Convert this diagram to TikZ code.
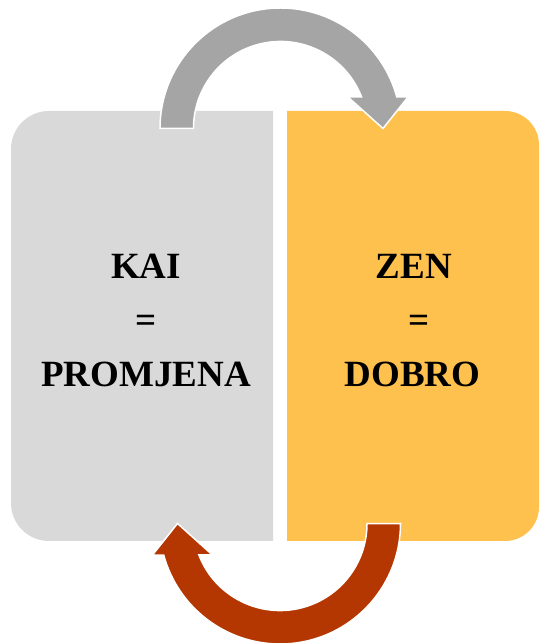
\documentclass[tikz,border=0pt]{standalone}
\usepackage{fontspec}
\setmainfont{Liberation Serif}
\definecolor{boxgray}{RGB}{217,217,217}
\definecolor{boxorange}{RGB}{255,193,77}
\definecolor{arrowgray}{RGB}{165,165,165}
\definecolor{arrowrust}{RGB}{180,54,0}
\begin{document}
\begin{tikzpicture}[x=1pt,y=1pt,
  label text/.style={font=\fontsize{37}{44}\selectfont\bfseries, anchor=base, inner sep=0pt, text=black},
  arrow outline/.style={draw=white, line width=1.5pt, line join=miter},
  cycarrow/.pic={
    \path[pic actions] (-120.5,0) arc[start angle=180, end angle=15.2, radius=120.5]
      -- (127.5,31.5) -- (102.5,0) -- (67.5,31.5) -- (81.1,31.5)
      arc[start angle=21.2, end angle=180, radius=87] -- cycle;
  }]
\useasboundingbox (0,0) rectangle (539,643);
% boxes
\fill[boxgray] (273,532) -- (49,532) arc[start angle=90, end angle=180, radius=38]
  -- (11,140) arc[start angle=180, end angle=270, radius=38] -- (273,102) -- cycle;
\fill[boxorange] (287,532) -- (505,532) arc[start angle=90, end angle=0, radius=34]
  -- (539,136) arc[start angle=0, end angle=-90, radius=34] -- (287,102) -- cycle;
% arrows
\pic[fill=arrowgray, arrow outline] at (280.5,514.5) {cycarrow};
\pic[rotate=180, fill=arrowrust, arrow outline] at (280,119.5) {cycarrow};
% texts
\node[label text] (kai) at (146,364) {KAI};
\node[label text] (kaieq) at (146,310) {=};
\node[label text] (promjena) at (146,256) {PROMJENA};
\node[label text] (zen) at (414,364) {ZEN};
\node[label text] (zeneq) at (419,310) {=};
\node[label text] (dobro) at (412.5,256) {DOBRO};
\end{tikzpicture}
\end{document}
